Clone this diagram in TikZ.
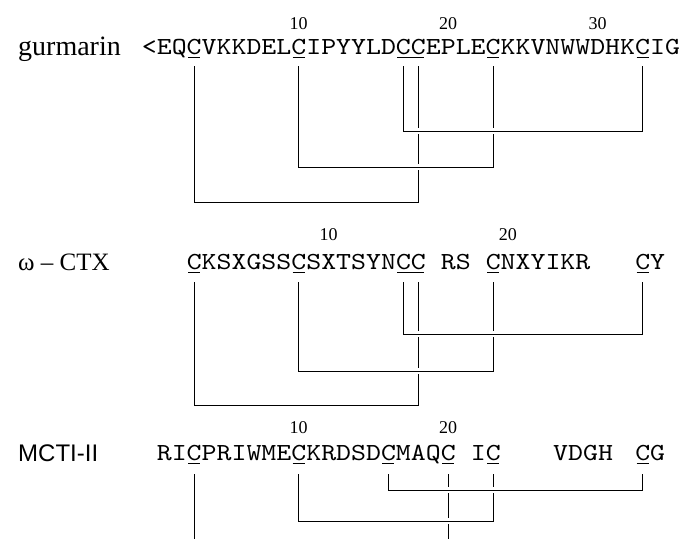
\documentclass[tikz,border=0pt]{standalone}
\usepackage{fontspec}
\setmainfont{Liberation Serif}
\newfontfamily\seqfont{lmmono10-regular.otf}[FakeStretch=1.162]
\newfontfamily\sansf{Liberation Sans}
\begin{document}
\begin{tikzpicture}[x=1pt,y=-1pt,
  seq/.style={anchor=base west, inner sep=0pt, font=\seqfont\fontsize{24.5}{25}\selectfont},
  num/.style={anchor=base, inner sep=0pt, font=\fontsize{18}{18}\selectfont},
  lbl/.style={anchor=base west, inner sep=0pt, font=\fontsize{28}{28}\selectfont},
  wlbl/.style={anchor=base west, inner sep=0pt, font=\fontsize{25}{25}\selectfont},
  slbl/.style={anchor=base west, inner sep=0pt, font=\sansf\fontsize{24}{24}\selectfont},
  bond/.style={line width=0.85pt},
  hbond/.style={line width=0.85pt, preaction={draw=white, line width=6pt}},
  ul/.style={line width=0.8pt}]
\useasboundingbox (0,0) rectangle (679,538);
% ---------------- gurmarin ----------------
\node[lbl] (glab) at (18,55) {gurmarin};
\node[seq] (gseq) at (141.7,54) {<EQCVKKDELCIPYYLDCCEPLECKKVNWWDHKCIG};
\node[num] (gn10) at (298.65,29) {10};
\node[num] (gn20) at (448.15,29) {20};
\node[num] (gn30) at (597.65,29) {30};
\draw[ul] (188,57.5) -- (200,57.5);
\draw[ul] (292.6,57.5) -- (304.6,57.5);
\draw[ul] (397.3,57.5) -- (424.2,57.5);
\draw[ul] (487,57.5) -- (499,57.5);
\draw[ul] (636.5,57.5) -- (648.5,57.5);
\coordinate (g4) at (194.0,66);
\coordinate (g11) at (298.65,66);
\coordinate (g18) at (403.3,66);
\coordinate (g19) at (418.25,66);
\coordinate (g24) at (493.0,66);
\coordinate (g34) at (642.5,66);
\draw[bond] (g4) -- ++(0,136) -| (g19);
\draw[hbond] (g11) -- ++(0,101) -| (g24);
\draw[hbond] (g18) -- ++(0,65) -| (g34);
% ---------------- omega-CTX ----------------
\node[wlbl] (wlab) at (18,270) {ω – CTX};
\node[seq] (ws1) at (186.55,269) {CKSXGSSCSXTSYNCC};
\node[seq] (ws2) at (440.7,269) {RS};
\node[seq] (ws3) at (485.55,269) {CNXYIKR};
\node[seq] (ws4) at (635.05,269) {CY};
\node[num] (wn10) at (328.55,240) {10};
\node[num] (wn20) at (507.95,240) {20};
\draw[ul] (188,272.5) -- (200,272.5);
\draw[ul] (292.6,272.5) -- (304.6,272.5);
\draw[ul] (397.3,272.5) -- (424.2,272.5);
\draw[ul] (487,272.5) -- (499,272.5);
\draw[ul] (636.5,272.5) -- (648.5,272.5);
\coordinate (w4) at (194.0,282);
\coordinate (w11) at (298.65,282);
\coordinate (w18) at (403.3,282);
\coordinate (w19) at (418.25,282);
\coordinate (w24) at (493.0,282);
\coordinate (w34) at (642.5,282);
\draw[bond] (w4) -- ++(0,123) -| (w19);
\draw[hbond] (w11) -- ++(0,89) -| (w24);
\draw[hbond] (w18) -- ++(0,52) -| (w34);
% ---------------- MCTI-II ----------------
\node[slbl] (mlab) at (18,461) {MCTI-II};
\node[seq] (ms1) at (156.65,460) {RICPRIWMECKRDSDCMAQC};
\node[seq] (ms2) at (470.6,460) {IC};
\node[seq] (ms3) at (553,460) {VDGH};
\node[seq] (ms4) at (635.05,460) {CG};
\node[num] (mn10) at (298.65,433) {10};
\node[num] (mn20) at (448.15,433) {20};
\draw[ul] (188,463.5) -- (200,463.5);
\draw[ul] (292.6,463.5) -- (304.6,463.5);
\draw[ul] (382.3,463.5) -- (394.3,463.5);
\draw[ul] (442.1,463.5) -- (454.1,463.5);
\draw[ul] (487,463.5) -- (499,463.5);
\draw[ul] (636.5,463.5) -- (648.5,463.5);
\coordinate (m4) at (194.0,474);
\coordinate (m11) at (298.65,474);
\coordinate (m17) at (388.35,474);
\coordinate (m21) at (448.15,474);
\coordinate (m24) at (493.0,474);
\coordinate (m34) at (642.5,474);
\coordinate (m4end) at (194.0,540);
\coordinate (m21end) at (448.15,540);
\draw[bond] (m4) -- (m4end);
\draw[bond] (m21) -- (m21end);
\draw[hbond] (m11) -- ++(0,47) -| (m24);
\draw[hbond] (m17) -- ++(0,16) -| (m34);
\end{tikzpicture}
\end{document}
